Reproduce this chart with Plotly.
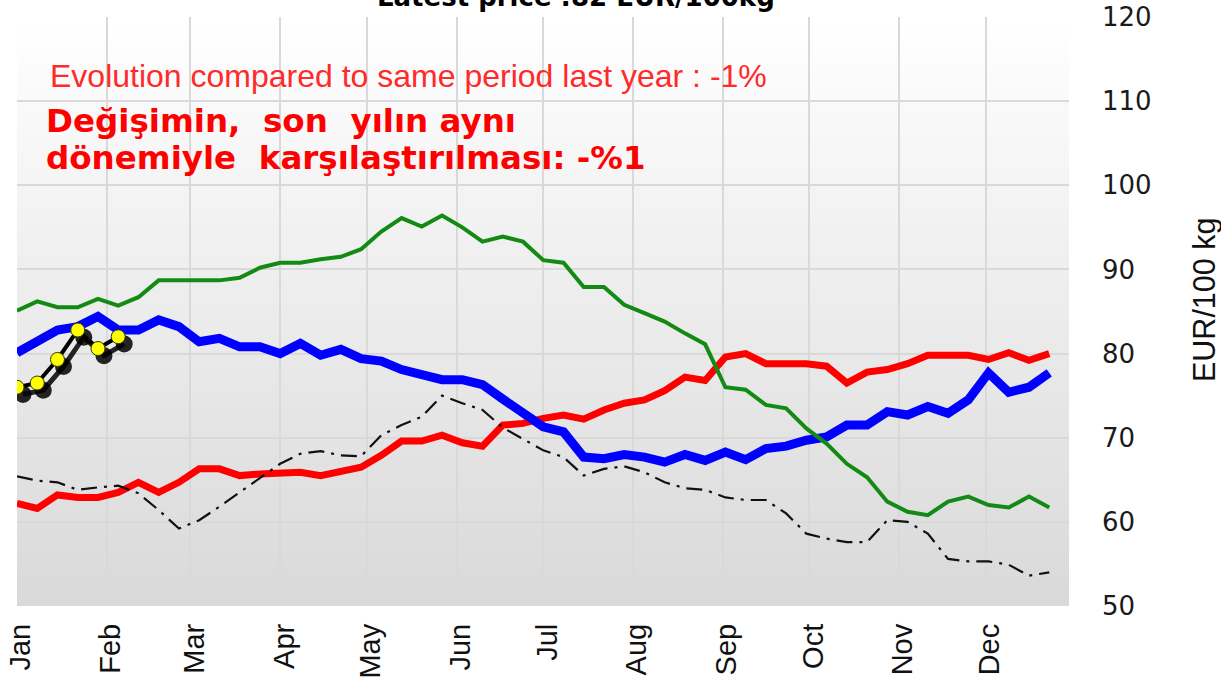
import plotly.graph_objects as go
import pandas as pd

# ---------------- data ----------------
week_dates = [d.strftime("%Y-%m-%d") for d in pd.date_range("2024-01-01", periods=52, freq="7D")]

green_vals = [85.1, 86.2, 85.5, 85.5, 86.5, 85.7, 86.7, 88.7, 88.7, 88.7, 88.7, 89.0, 90.2,
              90.8, 90.8, 91.2, 91.5, 92.4, 94.5, 96.1, 95.1, 96.4, 95.0, 93.3, 93.9, 93.3,
              91.1, 90.8, 87.9, 87.9, 85.8, 84.8, 83.8, 82.4, 81.1, 76.0, 75.7, 73.9, 73.5,
              71.1, 69.3, 66.9, 65.3, 62.4, 61.2, 60.8, 62.4, 63.0, 62.0, 61.7, 63.0, 61.7]

blue_vals = [80.1, 81.4, 82.8, 83.2, 84.4, 82.8, 82.8, 84.0, 83.2, 81.4, 81.8, 80.8, 80.8,
             80.0, 81.2, 79.8, 80.5, 79.4, 79.1, 78.1, 77.5, 76.9, 76.9, 76.3, 74.6, 73.1,
             71.3, 70.7, 67.7, 67.5, 68.0, 67.7, 67.1, 68.0, 67.3, 68.3, 67.4, 68.7, 69.0,
             69.7, 70.1, 71.5, 71.5, 73.1, 72.7, 73.7, 72.9, 74.5, 77.7, 75.4, 76.0, 77.7]

red_vals = [62.2, 61.6, 63.2, 62.9, 62.9, 63.5, 64.7, 63.5, 64.7, 66.3, 66.3, 65.5, 65.7,
            65.9, 65.9, 65.5, 65.9, 66.5, 67.9, 69.6, 69.6, 70.3, 69.4, 69.0, 71.5, 71.7,
            72.3, 72.7, 72.2, 73.3, 74.1, 74.5, 75.6, 77.2, 76.8, 79.6, 80.0, 78.8, 78.8,
            78.8, 78.5, 76.5, 77.8, 78.1, 78.8, 79.8, 79.8, 79.8, 79.3, 80.1, 79.2, 80.0]

dashdot_vals = [65.4, 64.9, 64.7, 63.8, 64.1, 64.3, 63.4, 61.4, 59.2, 60.2, 61.8, 63.5, 65.3,
                66.9, 68.1, 68.4, 67.9, 67.8, 70.3, 71.5, 72.5, 75.0, 74.1, 73.3, 71.2, 69.9,
                68.5, 67.7, 65.5, 66.3, 66.6, 65.9, 64.7, 64.0, 63.8, 62.9, 62.6, 62.6, 61.0,
                58.6, 58.0, 57.6, 57.6, 60.2, 60.0, 58.6, 55.6, 55.3, 55.3, 54.9, 53.6, 54.0]

current_vals = [76.0, 76.5, 79.3, 82.8, 80.6, 82.0]
current_dates = week_dates[:len(current_vals)]

month_ticks = [d.strftime("%Y-%m-%d") for d in pd.date_range("2024-01-01", periods=12, freq="MS")]
month_labels = ["Jan", "Feb", "Mar", "Apr", "May", "Jun", "Jul", "Aug", "Sep", "Oct", "Nov", "Dec"]
y_ticks = [50, 60, 70, 80, 90, 100, 110, 120]

title_text = "Latest price :82 EUR/100kg"
evolution_text = "Evolution compared to same period last year : -1%"
turkish_line1 = "Değişimin,\u00a0\u00a0son\u00a0\u00a0yılın aynı"
turkish_line2 = "dönemiyle\u00a0\u00a0karşılaştırılması: -%1"
y_title = "EUR/100 kg"

# ---------------- figure ----------------
fig = go.Figure()

fig.add_trace(go.Scatter(x=week_dates, y=red_vals, mode="lines",
                         line=dict(color="#ff0000", width=7), hoverinfo="skip"))
fig.add_trace(go.Scatter(x=week_dates, y=dashdot_vals, mode="lines",
                         line=dict(color="#111111", width=2.2, dash="16px,7px,3px,7px"),
                         hoverinfo="skip"))
fig.add_trace(go.Scatter(x=week_dates, y=blue_vals, mode="lines",
                         line=dict(color="#0000ff", width=9), hoverinfo="skip"))
fig.add_trace(go.Scatter(x=week_dates, y=green_vals, mode="lines",
                         line=dict(color="#138a13", width=4), hoverinfo="skip"))

# shadow of current-year series (offset copy of the same data)
shadow_x = [(pd.Timestamp(d) + pd.Timedelta(hours=50)).strftime("%Y-%m-%d %H:%M") for d in current_dates]
shadow_y = [v - 0.85 for v in current_vals]
fig.add_trace(go.Scatter(x=shadow_x, y=shadow_y, mode="lines+markers",
                         line=dict(color="rgba(0,0,0,0.85)", width=5),
                         marker=dict(size=17, color="rgba(0,0,0,0.85)"),
                         hoverinfo="skip"))
fig.add_trace(go.Scatter(x=current_dates, y=current_vals, mode="lines+markers",
                         line=dict(color="#000000", width=4),
                         marker=dict(size=14, color="#ffff00", line=dict(color="#333300", width=1)),
                         hoverinfo="skip"))

# background gradient (white at top to light grey at bottom)
N = 90
shapes = []
for k in range(N):
    t = (k + 0.5) / N  # 0 bottom, 1 top
    c = int(round(217 + (255 - 217) * t))
    shapes.append(dict(type="rect", xref="paper", yref="paper", x0=0, x1=1,
                       y0=k / N, y1=(k + 1) / N + 0.002, fillcolor=f"rgb({c},{c},{c})",
                       line=dict(width=0), layer="below"))

W, H = 1221, 685
ml, mt = 17, 17
pw, ph = 1052, 589
mr, mb = W - ml - pw, H - mt - ph


def px(xp):
    return (xp - ml) / pw


def py(yp):
    return (mt + ph - yp) / ph


annotations = [
    dict(text=title_text, xref="paper", yref="paper", x=px(576), y=py(-3), xanchor="center",
         yanchor="middle", showarrow=False,
         font=dict(family="DejaVu Sans", size=26, color="#000000", weight="bold")),
    dict(text=evolution_text, xref="paper", yref="paper", x=px(48), y=py(76), xanchor="left",
         yanchor="middle", showarrow=False,
         font=dict(family="Liberation Sans", size=32, color="#ff2a2a")),
    dict(text=turkish_line1, xref="paper", yref="paper", x=px(44), y=py(121), xanchor="left",
         yanchor="middle", showarrow=False,
         font=dict(family="DejaVu Sans", size=32.5, color="#ff0000", weight="bold")),
    dict(text=turkish_line2, xref="paper", yref="paper", x=px(44), y=py(158), xanchor="left",
         yanchor="middle", showarrow=False,
         font=dict(family="DejaVu Sans", size=32.5, color="#ff0000", weight="bold")),
    dict(text=y_title, xref="paper", yref="paper", x=px(1204), y=py(300), xanchor="center",
         yanchor="middle", textangle=-90, showarrow=False,
         font=dict(family="Liberation Sans", size=30.5, color="#111111")),
]

fig.update_layout(
    width=W, height=H,
    margin=dict(l=ml, r=mr, t=mt, b=mb),
    paper_bgcolor="#ffffff",
    plot_bgcolor="#ffffff",
    showlegend=False,
    shapes=shapes,
    annotations=annotations,
    xaxis=dict(type="date", range=["2024-01-01", "2024-12-29 20:00"],
               tickmode="array", tickvals=month_ticks, ticktext=month_labels,
               tickangle=-90, ticks="", showgrid=True, gridcolor="#d9d9d9", gridwidth=2,
               zeroline=False, showline=False, automargin=False,
               ticklabelstandoff=11, ticklabelshift=4, ticklabeloverflow="allow",
               tickfont=dict(family="Liberation Sans", size=29, color="#111111")),
    yaxis=dict(range=[50, 120], side="right", tickmode="array", tickvals=y_ticks,
               ticks="", showgrid=True, gridcolor="#d9d9d9", gridwidth=2,
               zeroline=False, showline=False, automargin=False,
               ticklabelstandoff=32, ticklabeloverflow="allow",
               tickfont=dict(family="DejaVu Sans", size=26, color="#1a1a1a")),
)

# place the figure at the page's top-left corner (no default body margin), no modebar
fig.write_html("out.html", config={"displayModeBar": False},
               post_script="document.body.style.margin='0px';")
